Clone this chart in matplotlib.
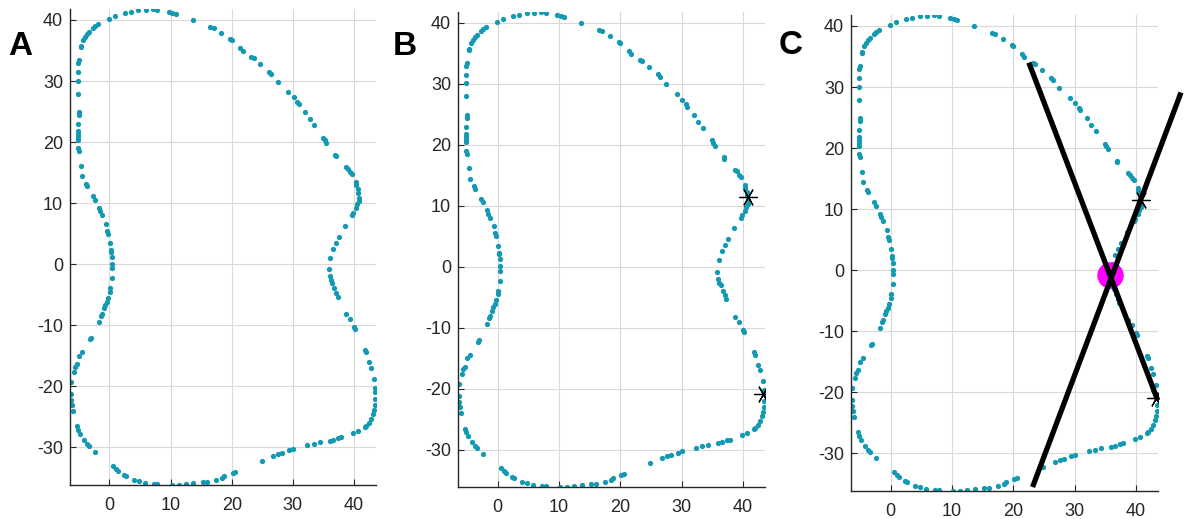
import numpy as np
import matplotlib.pyplot as plt

plt.rcParams['font.family'] = ['Liberation Sans', 'DejaVu Sans']
plt.rcParams['axes.unicode_minus'] = False

# outline points (same outline in all three panels)
x_pts = [13.64, 10.82, 10.28, 9.73, 7.84, 7.13, 5.94, 4.75, 3.50, 2.58, 0.90, -0.14,
         -1.82, -2.31, -2.74, -3.39, -3.72, -3.99, -4.26, -4.58, -4.69, -5.02, -5.07,
         -5.18, -5.18, -5.18, -5.02, -5.02, -5.07, -5.13, -5.18, -5.18, -5.13, -5.07,
         -5.02, -4.69, -4.42, -3.82, -3.66, -2.63, -2.36, -1.76, -1.49, -1.27, -0.62,
         -0.46, -0.30, 0.03, 0.19, 0.30, 0.35, 0.41, 0.46, 0.35, 0.14, 0.03, -0.24,
         -0.46, -0.68, -0.84, -1.27, -1.44, -1.76, -3.01, -3.17, -4.53, -4.91, -5.34,
         -5.61, -5.83, -6.21, -6.27, -6.32, -6.10, -6.00, -5.34, -5.13, -4.80, -4.10,
         -3.72, -3.28, -2.31, 0.62, 1.06, 1.44, 2.31, 2.69, 4.04, 4.85, 5.83, 7.30,
         7.84, 10.17, 11.36, 12.45, 13.70, 15.27, 15.98, 17.44, 18.42, 18.80, 20.16,
         20.55, 24.92, 26.83, 27.65, 28.20, 29.45, 30.00, 32.30, 33.39, 34.37, 36.01,
         36.56, 37.38, 37.92, 39.84, 40.66, 41.75, 42.02, 42.46, 42.84, 43.11, 43.33,
         43.44, 43.50, 43.50, 43.39, 43.22, 42.73, 42.46, 42.02, 41.80, 40.22, 40.00,
         39.29, 38.74, 37.32, 37.05, 36.72, 36.39, 36.17, 36.01, 35.85, 36.12, 36.56,
         37.10, 37.54, 38.58, 39.62, 39.84, 40.27, 40.55, 40.77, 40.82, 40.71, 40.60,
         40.38, 40.38, 39.67, 39.40, 39.02, 38.74, 36.99, 36.89, 35.46, 35.19, 34.92,
         33.44, 32.73, 31.97, 30.93, 30.66, 30.11, 29.23, 27.54, 26.50, 26.17, 24.70,
         23.61, 23.17, 21.80, 21.37, 20.00, 19.78, 18.25, 17.06, 16.52]
y_pts = [40.00, 40.97, 41.19, 41.36, 41.68, 41.74, 41.68, 41.63, 41.36, 41.09, 40.65, 40.16,
         39.34, 39.07, 38.74, 38.09, 37.71, 37.27, 36.78, 35.80, 35.53, 33.51, 32.97,
         31.44, 30.08, 27.96, 24.91, 24.47, 22.95, 21.75, 21.32, 20.77, 20.39, 19.03,
         18.54, 16.14, 14.40, 13.20, 12.77, 11.13, 10.59, 9.28, 8.68, 8.03, 6.61,
         5.47, 5.03, 3.40, 2.31, 2.03, 1.21, 0.12, -0.69, -2.33, -3.96, -4.51, -5.49,
         -6.14, -6.68, -7.23, -8.15, -8.48, -9.41, -12.02, -12.29, -14.42, -14.96, -16.38,
         -16.81, -17.58, -19.21, -21.28, -22.21, -23.02, -24.00, -26.56, -27.11, -27.76, -28.74,
         -29.45, -29.83, -30.81, -33.10, -33.54, -33.92, -34.46, -34.68, -35.28, -35.55, -35.77, -35.93,
         -35.99, -36.10, -36.10, -35.99, -35.82, -35.72, -35.66, -35.33, -35.01, -34.62, -34.24,
         -34.08, -32.17, -31.41, -31.14, -30.98, -30.49, -30.27, -29.67, -29.40, -29.18, -28.91,
         -28.74, -28.47, -28.36, -27.65, -27.27, -26.67, -26.46, -26.02, -25.37, -24.55, -23.84,
         -23.02, -22.04, -20.84, -20.19, -18.78, -16.92, -16.05, -14.42, -14.04, -10.66, -10.33,
         -9.03, -8.21, -5.38, -4.67, -3.96, -3.03, -2.60, -1.95, -0.80, 1.10, 2.57,
         3.55, 4.48, 6.28, 8.02, 8.46, 9.22, 9.82, 10.31, 10.91, 11.73, 12.27,
         12.93, 13.47, 14.73, 15.11, 15.65, 15.93, 17.73, 17.94, 19.85, 20.28, 20.72,
         22.73, 23.82, 24.91, 26.27, 26.65, 27.36, 28.28, 29.92, 31.17, 31.55, 32.80,
         33.79, 34.00, 34.98, 35.36, 36.73, 36.89, 37.87, 38.63, 38.91]

# the two marked points (panels B and C)
star_x = [40.8, 43.3]
star_y = [11.5, -20.9]

# panel C: the two fitted lines and their crossing
line1_x = [22.7, 43.4]
line1_y = [33.6, -20.9]
line2_x = [23.3, 47.2]
line2_y = [-35.1, 28.7]
cross_x = [35.8]
cross_y = [-0.7]

x_ticks = [0, 10, 20, 30, 40]
y_ticks = [-30, -20, -10, 0, 10, 20, 30, 40]
panel_labels = ['A', 'B', 'C']

dot_color = '#1499b3'
text_color = '#262626'

fig = plt.figure(figsize=(11.84, 5.19), dpi=100)

boxes = [[70, 9, 306, 476], [458, 12, 307, 475], [851, 15, 307, 476]]
label_pos = [(8, 55), (393, 55), (779, 54)]

axs = []
for i, (l, t, w, h) in enumerate(boxes):
    ax = fig.add_axes([l / 1184, (519 - t - h) / 519, w / 1184, h / 519])
    ax.set_axisbelow(True)
    ax.grid(True, color='#d9d9d9', linewidth=0.8)
    ax.plot(x_pts, y_pts, 'o', color=dot_color, markersize=3.8, markeredgewidth=0, zorder=2)
    ax.set_xlim(-6.45, 43.6)
    ax.set_ylim(-36.15, 41.8)
    ax.set_xticks(x_ticks)
    ax.set_yticks(y_ticks)
    ax.spines['top'].set_visible(False)
    ax.spines['right'].set_visible(False)
    for s in ['left', 'bottom']:
        ax.spines[s].set_color(text_color)
        ax.spines[s].set_linewidth(1.0)
    ax.tick_params(direction='in', length=4, width=0.8, color=text_color,
                   labelcolor=text_color, labelsize=13)
    ax.tick_params(axis='x', pad=9)
    ax.tick_params(axis='y', pad=5)
    fig.text(label_pos[i][0] / 1184, 1 - label_pos[i][1] / 519, panel_labels[i],
             fontsize=24, fontweight='bold', color='black', ha='left', va='baseline')
    axs.append(ax)

# asterisks on B and C
for ax in axs[1:]:
    ax.plot(star_x, star_y, linestyle='none', marker=(6, 2, 90), markersize=13,
            markeredgecolor='black', markeredgewidth=0.9, zorder=4)

# crossing lines on C
axC = axs[2]
axC.plot(cross_x, cross_y, 'o', color='#ff00ff', markersize=19, markeredgewidth=0, zorder=3)
axC.plot(line1_x, line1_y, color='black', linewidth=3.8, zorder=5, clip_on=False)
axC.plot(line2_x, line2_y, color='black', linewidth=3.8, zorder=5, clip_on=False)

plt.savefig('out.png', dpi=100)
